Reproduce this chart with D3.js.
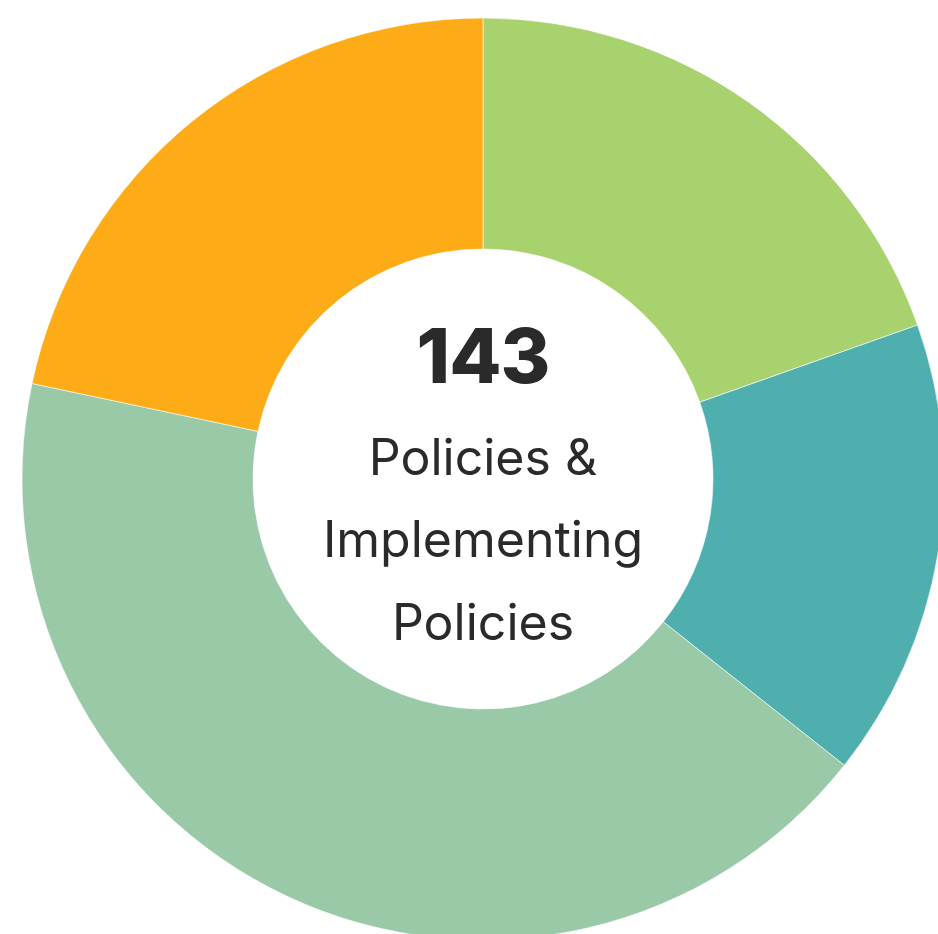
<!DOCTYPE html>
<html>
<head>
<script type="text/javascript" src="https://cdn.jsdelivr.net/npm/d3@7/dist/d3.min.js"></script>
<style>
  body { margin: 0; background: white; }
</style>
</head>
<body>
<script>

// data
var categories = ["A", "B", "C", "D"],
    values = [28, 23, 61, 31],
    colors = ["#a8d26d", "#4fafaf", "#9ac9a7", "#fdab17"],
    total = 143,
    labelLines = ["Policies &", "Implementing", "Policies"];

var width = 938,
    height = 934,
    cx = 483,
    cy = 479,
    outerR = 461,
    innerR = 230;

var svg = d3.select("body")
            .append("svg")
            .attr("width", width)
            .attr("height", height);

var g = svg.append("g")
           .attr("transform", "translate(" + cx + "," + cy + ")");

var pie = d3.pie().sort(null).value(function (d) { return d; });
var arc = d3.arc().innerRadius(innerR).outerRadius(outerR);

g.selectAll("path")
 .data(pie(values))
 .enter()
 .append("path")
 .attr("d", arc)
 .attr("fill", function (d, i) { return colors[i]; })
 .attr("stroke", "#ffffff")
 .attr("stroke-width", 0.6);

g.append("text")
 .attr("x", 0)
 .attr("y", 383 - cy)
 .attr("text-anchor", "middle")
 .style("font", "800 76px Inter, sans-serif")
 .style("letter-spacing", "-1px")
 .style("fill", "#2a2a2a")
 .text(total);

var baselines = [475, 557, 640];
labelLines.forEach(function (t, i) {
  g.append("text")
   .attr("x", 0)
   .attr("y", baselines[i] - cy)
   .attr("text-anchor", "middle")
   .style("font", "400 50px Inter, sans-serif")
   .style("fill", "#2a2a2a")
   .text(t);
});

</script>
</body>
</html>
